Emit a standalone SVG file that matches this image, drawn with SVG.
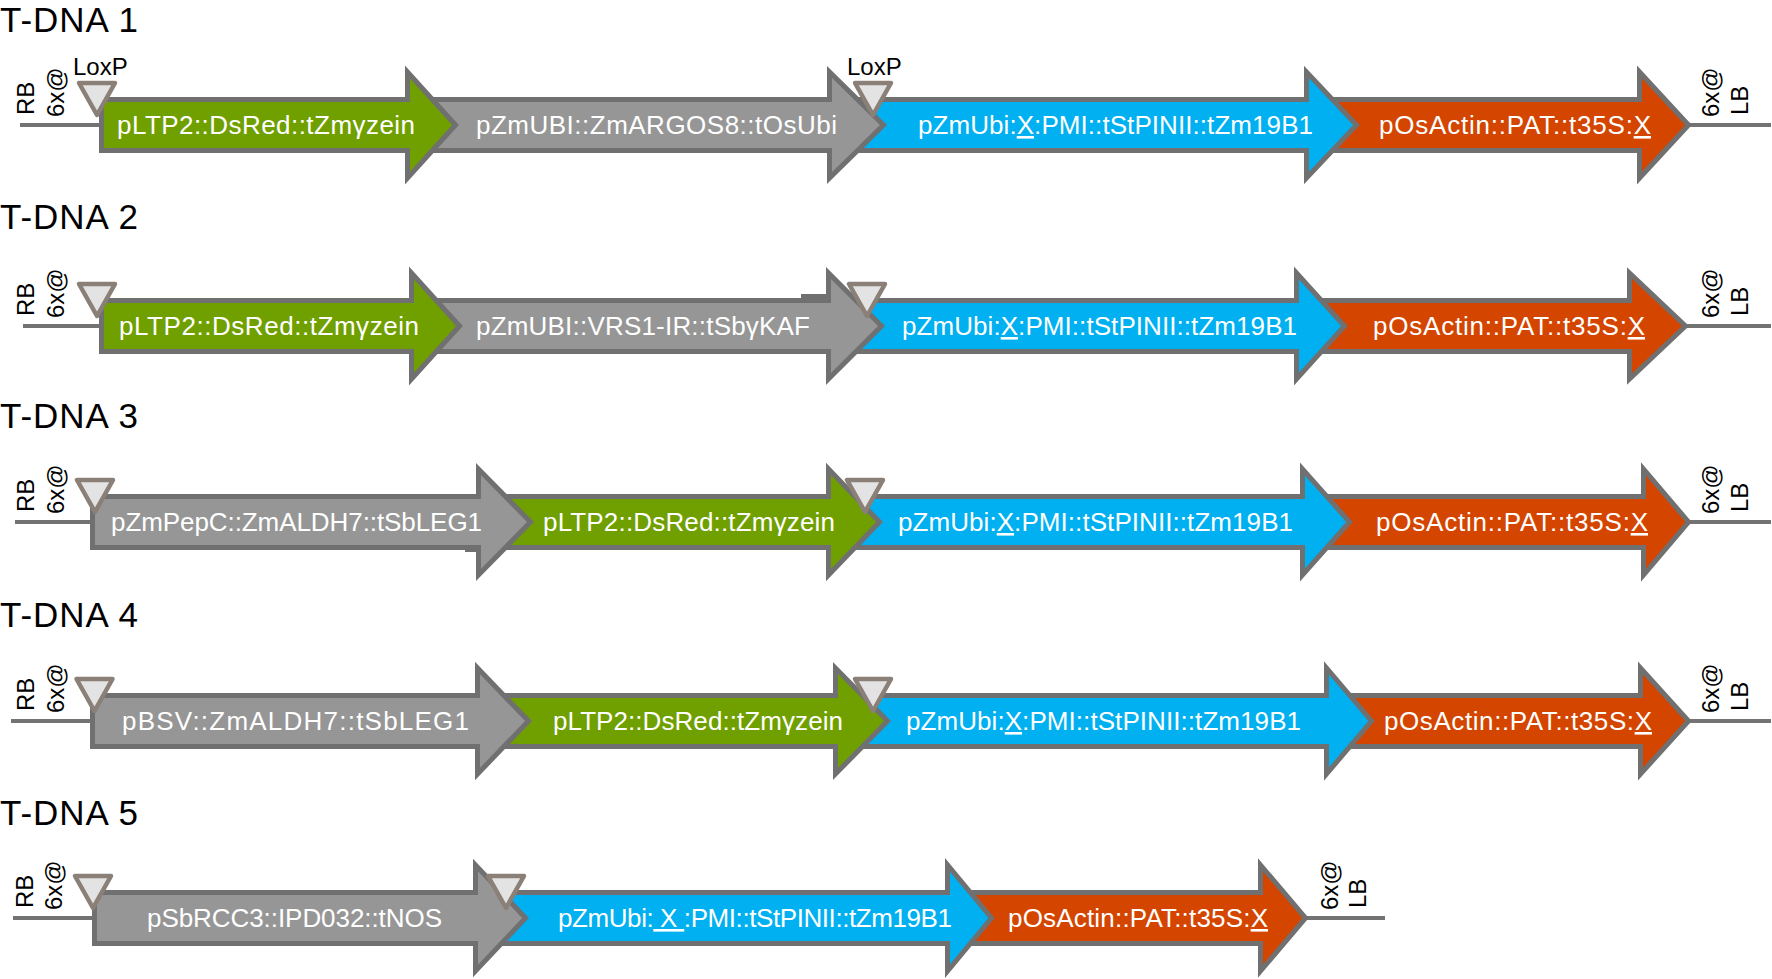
<svg xmlns="http://www.w3.org/2000/svg" width="1772" height="979" viewBox="0 0 1772 979">
<style>
.ar{stroke:#707070;stroke-width:5;stroke-linejoin:miter}
.g{fill:#70a000}.gr{fill:#969696}.b{fill:#00b0f0}.o{fill:#d44500}
.lox{fill:#e3e3e3;stroke:#8a8077;stroke-width:4.5;stroke-linejoin:round}
.bb{stroke:#737373;stroke-width:4;fill:none}
.lbl{font-family:"Liberation Sans",Arial,sans-serif;font-size:26px;fill:#fff}
.sm{font-family:"Liberation Sans",Arial,sans-serif;font-size:24px;fill:#000}
.tt{font-family:"Liberation Sans",Arial,sans-serif;font-size:35px;fill:#000}
.u{text-decoration:underline}
.st{fill:#707070}
</style>
<rect width="1772" height="979" fill="#fff"/>
<g id="connectors">
<line class="bb" x1="20" y1="125" x2="102" y2="125"/><line class="bb" x1="1688" y1="125" x2="1771" y2="125"/>
<line class="bb" x1="23" y1="326" x2="102" y2="326"/><line class="bb" x1="1685" y1="326" x2="1771" y2="326"/>
<line class="bb" x1="15" y1="522" x2="93" y2="522"/><line class="bb" x1="1688" y1="522" x2="1771" y2="522"/>
<line class="bb" x1="11" y1="721" x2="93" y2="721"/><line class="bb" x1="1688" y1="721" x2="1771" y2="721"/>
<line class="bb" x1="13" y1="918" x2="95" y2="918"/><line class="bb" x1="1305" y1="918" x2="1385" y2="918"/>
</g>
<!-- T-DNA 1 -->
<g id="tdna1">
<text class="tt" x="0" y="32" textLength="138">T-DNA 1</text>
<g id="t1-orange"><path class="ar o" d="M1309,99.5 H1639.5 V72 L1688.5,125 L1639.5,178 V150.5 H1309 Z"/><text class="lbl" x="1379" y="134" textLength="272">pOsActin::PAT::t35S:<tspan class="u">X</tspan></text></g>
<g id="t1-blue"><path class="ar b" d="M832,99.5 H1306.5 V72 L1356.5,125 L1306.5,178 V150.5 H832 Z"/><text class="lbl" x="918" y="134" textLength="395">pZmUbi:<tspan class="u">X</tspan>:PMI::tStPINII::tZm19B1</text></g>
<g id="t1-gray"><path class="ar gr" d="M412,99.5 H829.5 V72 L883.5,125 L829.5,178 V150.5 H412 Z"/><text class="lbl" x="476" y="134" textLength="361">pZmUBI::ZmARGOS8::tOsUbi</text></g>
<g id="t1-green"><path class="ar g" d="M101.5,99.5 H407.5 V72 L455.5,125 L407.5,178 V150.5 H101.5 Z"/><text class="lbl" x="117" y="134" textLength="298">pLTP2::DsRed::tZmγzein</text></g>
<g id="t1-loxp1"><path class="lox" d="M79,83 H115 L97,115 Z"/><text class="sm" x="73" y="75">LoxP</text></g>
<g id="t1-loxp2"><path class="lox" d="M855,83 H891 L873,115 Z"/><text class="sm" x="847" y="75">LoxP</text></g>
<g id="t1-rb"><text class="sm" transform="translate(34,115) rotate(-90)">RB</text><text class="sm" transform="translate(64,117) rotate(-90)">6x@</text></g>
<g id="t1-lb"><text class="sm" transform="translate(1719,117) rotate(-90)">6x@</text><text class="sm" transform="translate(1748,115) rotate(-90)">LB</text></g>
</g>
<!-- T-DNA 2 -->
<g id="tdna2">
<text class="tt" x="0" y="229" textLength="138">T-DNA 2</text>
<g id="t2-orange"><path class="ar o" d="M1299,300.5 H1629.5 V273 L1685.5,326 L1629.5,379 V351.5 H1299 Z"/><text class="lbl" x="1373" y="335" textLength="272">pOsActin::PAT::t35S:<tspan class="u">X</tspan></text></g>
<g id="t2-blue"><path class="ar b" d="M831,300.5 H1296.5 V273 L1344.5,326 L1296.5,379 V351.5 H831 Z"/><text class="lbl" x="902" y="335" textLength="395">pZmUbi:<tspan class="u">X</tspan>:PMI::tStPINII::tZm19B1</text></g>
<g id="t2-gray"><path class="ar gr" d="M416,300.5 H828.5 V273 L881.5,326 L828.5,379 V351.5 H416 Z"/><rect class="st" x="801" y="294" width="27" height="5"/><text class="lbl" x="476" y="335" textLength="334">pZmUBI::VRS1-IR::tSbγKAF</text></g>
<g id="t2-green"><path class="ar g" d="M101.5,300.5 H411.5 V273 L459.5,326 L411.5,379 V351.5 H101.5 Z"/><text class="lbl" x="119" y="335" textLength="300">pLTP2::DsRed::tZmγzein</text></g>
<g id="t2-loxp1"><path class="lox" d="M79,284 H115 L97,316 Z"/></g>
<g id="t2-loxp2"><path class="lox" d="M849,284 H885 L867,316 Z"/></g>
<g id="t2-rb"><text class="sm" transform="translate(34,316) rotate(-90)">RB</text><text class="sm" transform="translate(64,318) rotate(-90)">6x@</text></g>
<g id="t2-lb"><text class="sm" transform="translate(1719,318) rotate(-90)">6x@</text><text class="sm" transform="translate(1748,316) rotate(-90)">LB</text></g>
</g>
<!-- T-DNA 3 -->
<g id="tdna3">
<text class="tt" x="0" y="428" textLength="138">T-DNA 3</text>
<g id="t3-orange"><path class="ar o" d="M1305,496.5 H1643.5 V469 L1688.5,522 L1643.5,575 V547.5 H1305 Z"/><text class="lbl" x="1376" y="531" textLength="272">pOsActin::PAT::t35S:<tspan class="u">X</tspan></text></g>
<g id="t3-blue"><path class="ar b" d="M831,496.5 H1302.5 V469 L1349.5,522 L1302.5,575 V547.5 H831 Z"/><text class="lbl" x="898" y="531" textLength="395">pZmUbi:<tspan class="u">X</tspan>:PMI::tStPINII::tZm19B1</text></g>
<g id="t3-green"><path class="ar g" d="M481,496.5 H828.5 V469 L879.5,522 L828.5,575 V547.5 H481 Z"/><text class="lbl" x="543" y="531" textLength="292">pLTP2::DsRed::tZmγzein</text></g>
<g id="t3-gray"><path class="ar gr" d="M92.5,496.5 H478.5 V469 L530.5,522 L478.5,575 V547.5 H92.5 Z"/><rect class="st" x="465" y="548" width="14" height="4"/><text class="lbl" x="111" y="531" textLength="371">pZmPepC::ZmALDH7::tSbLEG1</text></g>
<g id="t3-loxp1"><path class="lox" d="M77,480 H113 L95,512 Z"/></g>
<g id="t3-loxp2"><path class="lox" d="M847,480 H883 L865,512 Z"/></g>
<g id="t3-rb"><text class="sm" transform="translate(34,512) rotate(-90)">RB</text><text class="sm" transform="translate(64,514) rotate(-90)">6x@</text></g>
<g id="t3-lb"><text class="sm" transform="translate(1719,514) rotate(-90)">6x@</text><text class="sm" transform="translate(1748,512) rotate(-90)">LB</text></g>
</g>
<!-- T-DNA 4 -->
<g id="tdna4">
<text class="tt" x="0" y="627" textLength="138">T-DNA 4</text>
<g id="t4-orange"><path class="ar o" d="M1329,695.5 H1640.5 V668 L1688.5,721 L1640.5,774 V746.5 H1329 Z"/><text class="lbl" x="1384" y="730" textLength="268">pOsActin::PAT::t35S:<tspan class="u">X</tspan></text></g>
<g id="t4-blue"><path class="ar b" d="M838,695.5 H1326.5 V668 L1371.5,721 L1326.5,774 V746.5 H838 Z"/><text class="lbl" x="906" y="730" textLength="395">pZmUbi:<tspan class="u">X</tspan>:PMI::tStPINII::tZm19B1</text></g>
<g id="t4-green"><path class="ar g" d="M480,695.5 H835.5 V668 L887.5,721 L835.5,774 V746.5 H480 Z"/><text class="lbl" x="553" y="730" textLength="290">pLTP2::DsRed::tZmγzein</text></g>
<g id="t4-gray"><path class="ar gr" d="M92.5,695.5 H477.5 V668 L528.5,721 L477.5,774 V746.5 H92.5 Z"/><text class="lbl" x="122" y="730" textLength="347">pBSV::ZmALDH7::tSbLEG1</text></g>
<g id="t4-loxp1"><path class="lox" d="M76.5,679 H112.5 L94.5,711 Z"/></g>
<g id="t4-loxp2"><path class="lox" d="M855,679 H891 L873,711 Z"/></g>
<g id="t4-rb"><text class="sm" transform="translate(34,711) rotate(-90)">RB</text><text class="sm" transform="translate(64,713) rotate(-90)">6x@</text></g>
<g id="t4-lb"><text class="sm" transform="translate(1719,713) rotate(-90)">6x@</text><text class="sm" transform="translate(1748,711) rotate(-90)">LB</text></g>
</g>
<!-- T-DNA 5 -->
<g id="tdna5">
<text class="tt" x="0" y="825" textLength="138">T-DNA 5</text>
<g id="t5-orange"><path class="ar o" d="M950,892.5 H1260.5 V865 L1305.5,918 L1260.5,971 V943.5 H950 Z"/><text class="lbl" x="1008" y="927" textLength="260">pOsActin::PAT::t35S:<tspan class="u">X</tspan></text></g>
<g id="t5-blue"><path class="ar b" d="M478,892.5 H947.5 V865 L991.5,918 L947.5,971 V943.5 H478 Z"/><text class="lbl" x="558" y="927" textLength="394">pZmUbi:<tspan class="u"> X </tspan>:PMI::tStPINII::tZm19B1</text></g>
<g id="t5-gray"><path class="ar gr" d="M94.5,892.5 H475.5 V865 L525.5,918 L475.5,971 V943.5 H94.5 Z"/><text class="lbl" x="147" y="927" textLength="295">pSbRCC3::IPD032::tNOS</text></g>
<g id="t5-loxp1"><path class="lox" d="M75,876 H111 L93,908 Z"/></g>
<g id="t5-loxp2"><path class="lox" d="M488,876 H524 L506,908 Z"/></g>
<g id="t5-rb"><text class="sm" transform="translate(33,908) rotate(-90)">RB</text><text class="sm" transform="translate(62,910) rotate(-90)">6x@</text></g>
<g id="t5-lb"><text class="sm" transform="translate(1338,910) rotate(-90)">6x@</text><text class="sm" transform="translate(1366,908) rotate(-90)">LB</text></g>
</g>
</svg>
